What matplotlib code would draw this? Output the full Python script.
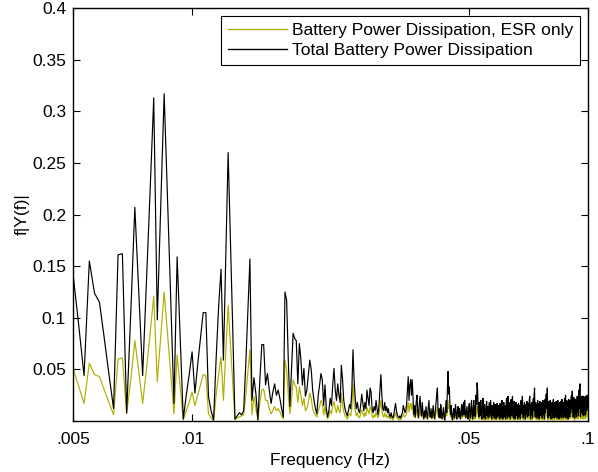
import matplotlib
matplotlib.use("Agg")
import matplotlib.pyplot as plt
import numpy as np

plt.rcParams['font.family'] = ['Liberation Sans', 'DejaVu Sans']

# FFT bins: first bin index and bin width (Hz)
k0 = 30
df = 1.0 / 6000

# Total Battery Power Dissipation, bins k=30..600
total = [
    .143, .094, .044, .155, .124, .115, .080, .045, .012, .161,
    .162, .008, .105, .207, .125, .044, .134, .223, .313, .098,
    .210, .317, .217, .117, .017, .159, .080, .002, .025, .045,
    .067, .027, .055, .080, .105, .105, .024, .010, .001, .060,
    .110, .147, .059, .160, .260, .175, .090, .002, .005, .008,
    .006, .010, .055, .105, .157, .020, .042, .026, .001, .040,
    .074, .074, .035, .046, .030, .017, .028, .036, .025, .030,
    .022, .012, .004, .125, .117, .060, .014, .050, .085, .080,
    .078, .036, .075, .060, .035, .051, .024, .030, .045, .059,
    .050, .030, .020, .012, .007, .025, .035, .046, .040, .015,
    # k=130
    .035, .012, .004, .010, .022, .015, .035, .051, .030, .020,
    .036, .025, .018, .054, .040, .020, .012, .008, .005, .010,
    .016, .012, .030, .069, .040, .022, .012, .018, .010, .008,
    .015, .026, .018, .010, .018, .012, .030, .022, .015, .032,
    .028, .012, .008, .014, .010, .020, .012, .006, .015, .030,
    .045, .025, .012, .010, .018, .010, .014, .008, .012, .006,
    .004, .008, .004, .003, .006, .012, .017, .010, .006, .004,
    .003, .005, .003, .006, .008, .015, .012, .008, .010, .016,
    .030, .043, .020, .035, .040, .025,
    # k=216
    .040, .022, .006, .015, .004, .018, .025, .010, .003, .015, .024, .012, .005, .018, .008, .002, .010, .004, .014, .007,
    .002, .012, .020, .008, .004, .012, .003, .008, .015, .006, .002, .010, .018, .025, .032, .012, .004, .012, .003, .016,
    .008, .002, .008, .013, .004, .001, .010, .020, .008, .030, .048, .026, .033, .015, .006, .015, .004, .001, .008, .012,
    .003, .009, .016, .005, .002, .010, .014, .004, .012, .006, .002, .011, .016, .005, .012, .018, .006, .020, .010, .003,
    .009, .014, .005, .002, .012, .017, .006, .003, .014, .020, .006, .002, .013, .020, .005, .015, .004, .025, .016, .037,
    .030, .012, .004, .018, .005, .014, .020, .006, .002, .015, .022, .008, .003, .016, .007, .002, .013, .019, .005, .014,
    .003, .011, .018, .004, .012, .020, .006, .002, .015, .005, .013, .018, .003, .011, .016, .005, .002, .012, .017, .004,
    .014, .015, .006, .002, .017, .008, .003, .014, .020, .006, .002, .013, .018, .004, .015, .010, .002, .016, .022, .007,
    .003, .024, .012, .004, .018, .009, .002, .015, .021, .005, .016, .024, .010, .003, .015, .019, .006, .002, .014, .018,
    .005, .016, .010, .002, .013, .017, .004, .015, .008, .002, .014, .020, .007, .016, .024, .010, .003, .015, .006, .018,
    .009, .002, .016, .007, .014, .019, .004, .013, .017, .005, .015, .021, .024, .008, .002, .016, .006, .018, .011, .003,
    .017, .022, .010, .026, .032, .012, .004, .018, .008, .016, .003, .014, .020, .006, .017, .010, .002, .015, .019, .005,
    .014, .018, .007, .016, .003, .013, .020, .006, .017, .012, .002, .016, .021, .008, .018, .026, .012, .024, .032, .010,
    .003, .017, .008, .019, .005, .015, .020, .007, .002, .016, .009, .018, .012, .003, .017, .021, .008, .015, .003, .018,
    .010, .016, .004, .019, .009, .017, .003, .015, .020, .008, .016, .002, .014, .018, .005, .016, .009, .019, .003, .015,
    .021, .007, .017, .012, .003, .018, .009, .016, .022, .004, .017, .025, .011, .003, .016, .020, .007, .018, .010, .002,
    .017, .021, .010, .019, .004, .016, .020, .008, .018, .024, .012, .022, .029, .010, .020, .004, .017, .023, .009, .019,
    .003, .016, .021, .008, .018, .012, .004, .019, .024, .009, .017, .021, .005, .026, .030, .012, .028, .036, .015, .004,
    .019, .023, .008, .017, .024, .012, .021, .006, .024, .019, .005, .020, .012, .022, .016, .024, .006, .019, .023, .024,
    .010, .020, .025, .012, .019,
]

# Battery Power Dissipation, ESR only, bins k=30..600
esr = [
    .051, .034, .017, .056, .045, .043, .030, .018, .006, .060,
    .061, .007, .040, .078, .048, .017, .050, .085, .121, .038,
    .082, .125, .085, .046, .007, .064, .032, .001, .010, .018,
    .028, .015, .025, .035, .045, .044, .007, .003, .000, .025,
    .045, .062, .020, .068, .112, .075, .037, .001, .003, .004,
    .005, .006, .025, .047, .069, .006, .024, .012, .001, .018,
    .030, .031, .020, .020, .012, .007, .010, .014, .010, .012,
    .009, .005, .002, .059, .050, .025, .007, .020, .040, .035,
    .033, .018, .033, .025, .015, .022, .010, .012, .018, .027,
    .022, .012, .008, .006, .004, .010, .014, .020, .017, .006,
    # k=130
    .014, .006, .002, .005, .010, .007, .015, .019, .012, .008,
    .015, .010, .008, .027, .016, .009, .005, .004, .002, .005,
    .007, .005, .013, .036, .018, .010, .005, .008, .004, .003,
    .007, .011, .008, .004, .008, .005, .013, .010, .007, .014,
    .012, .005, .003, .006, .004, .009, .005, .003, .007, .013,
    .020, .011, .005, .004, .008, .004, .006, .003, .005, .003,
    .002, .004, .002, .001, .003, .005, .008, .004, .003, .002,
    .001, .002, .001, .003, .004, .007, .005, .004, .005, .007,
    .013, .018, .009, .015, .017, .011,
    # k=216
    .017, .009, .004, .006, .003, .008, .011, .005, .003, .006,
    .010, .006, .004, .008, .003, .002, .004, .003, .006, .004,
    .002, .005, .008, .004, .003, .005, .002, .003, .006, .004,
    .002, .004, .008, .010, .013, .006, .003, .005, .003, .007,
    .004, .002, .003, .006, .003, .001, .004, .008, .005, .012,
    .020, .012, .014, .008, .004, .006, .003, .001, .003, .005,
    .002, .004, .007, .003, .002, .004, .006, .003, .005, .003,
    .002, .005, .007, .003, .005, .008, .004, .008, .005, .003,
    .004, .006, .003, .002,
    # k=300
    .004, .006, .002, .001, .005, .008, .002, .001, .005, .008, .002, .006, .002, .010, .006, .014, .012, .005, .002, .007,
    .002, .005, .008, .002, .001, .006, .009, .003, .001, .006, .003, .001, .005, .007, .002, .005, .001, .004, .007, .002,
    .005, .008, .002, .001, .006, .002, .005, .007, .001, .004, .006, .002, .001, .005, .007, .002, .005, .006, .002, .001,
    .007, .003, .001, .005, .008, .002, .001, .005, .007, .002, .006, .004, .001, .006, .009, .003, .001, .009, .005, .002,
    .007, .003, .001, .006, .008, .002, .006, .009, .004, .001, .006, .007, .002, .001, .005, .007, .002, .006, .004, .001,
    .005, .007, .002, .006, .003, .001, .005, .008, .003, .006, .009, .004, .001, .006, .002, .007, .003, .001, .006, .003,
    .005, .007, .002, .005, .007, .002, .006, .008, .009, .003, .001, .006, .002, .007, .004, .001, .007, .009, .004, .010,
    .012, .005, .002, .007, .003, .006, .001, .005, .008, .002, .007, .004, .001, .006, .007, .002, .005, .007, .003, .006,
    .001, .005, .008, .002, .007, .005, .001, .006, .008, .003, .007, .010, .005, .009, .012, .004, .001, .007, .003, .007,
    .002, .006, .008, .003, .001, .006, .003, .007, .005, .001, .007, .008, .003, .006, .001, .007, .004, .006, .002, .007,
    .003, .007, .001, .006, .008, .003, .006, .001, .005, .007, .002, .006, .003, .007, .001, .006, .008, .003, .007, .005,
    .001, .007, .003, .006, .009, .002, .007, .010, .004, .001, .006, .008, .003, .007, .004, .001, .007, .008, .004, .007,
    .002, .006, .008, .003, .007, .009, .005, .009, .011, .004, .008, .002, .007, .009, .003, .007, .001, .006, .008, .003,
    .007, .005, .002, .007, .009, .003, .007, .008, .002, .010, .012, .005, .011, .014, .006, .002, .007, .009, .003, .007,
    .009, .005, .008, .002, .009, .007, .002, .008, .005, .009, .006, .009, .002, .007, .009, .009, .004, .008, .010, .005,
    .007,
]

xticks = [0.005, 0.01, 0.05, 0.1]
xticklabels = ['.005', '.01', '.05', '.1']
yticks = [0.05, 0.1, 0.15, 0.2, 0.25, 0.3, 0.35, 0.4]

f_total = (k0 + np.arange(len(total))) * df
f_esr = (k0 + np.arange(len(esr))) * df

fs = 12.5
fig = plt.figure(figsize=(5.98, 4.72), dpi=100)
ax = fig.add_axes([0.122, 0.108, 0.861, 0.875])

ax.plot(f_esr, esr, color='#b0b000', lw=0.85, label='Battery Power Dissipation, ESR only')
ax.plot(f_total, total, color='black', lw=0.85, label='Total Battery Power Dissipation')

ax.set_xscale('log')
ax.set_xlim(0.005, 0.1)
ax.set_ylim(0, 0.4)
ax.set_xticks(xticks)
ax.set_xticklabels(xticklabels)
ax.xaxis.set_minor_locator(matplotlib.ticker.NullLocator())
ax.set_yticks(yticks)
ax.set_yticklabels(['%g' % v for v in yticks])
ax.tick_params(direction='in', top=True, right=True, length=5, width=0.8,
               labelsize=fs, pad=5)
ax.tick_params(axis='x', pad=8)
for s in ax.spines.values():
    s.set_linewidth(1.0)

ax.set_xlabel('Frequency (Hz)', fontsize=fs, labelpad=4)
ax.set_ylabel('f|Y(f)|', fontsize=fs, labelpad=1.5)

leg = ax.legend(loc='upper right', fontsize=fs, fancybox=False, edgecolor='black',
                framealpha=1, handlelength=3.4, borderaxespad=0.45, borderpad=0.4,
                labelspacing=0.3, handletextpad=0.3)
leg.get_frame().set_linewidth(0.8)
for h in leg.get_lines():
    h.set_linewidth(1.0)

fig.savefig('out.png', dpi=100)
